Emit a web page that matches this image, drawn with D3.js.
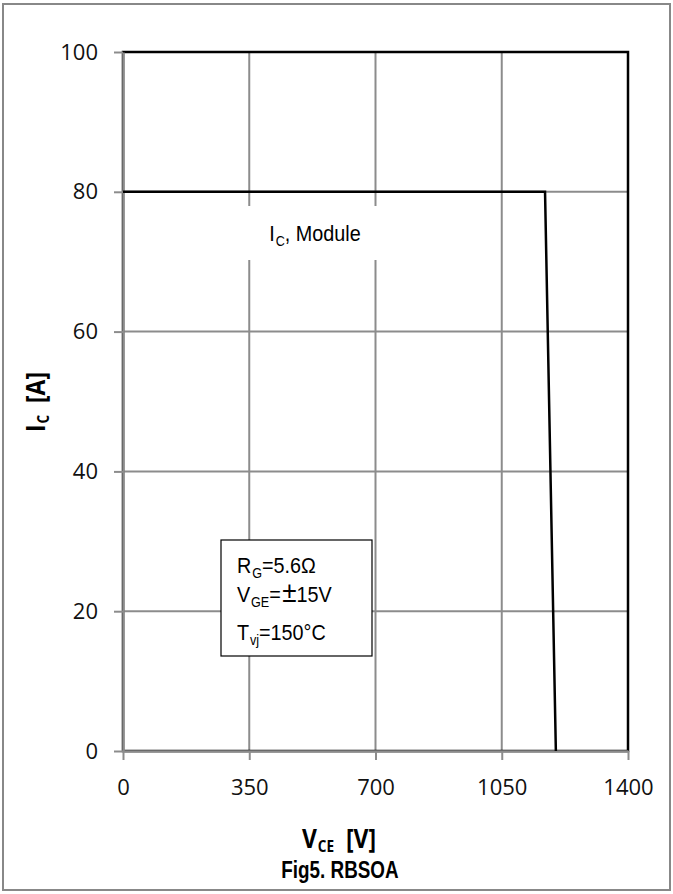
<!DOCTYPE html>
<html>
<head>
<meta charset="utf-8">
<script src="https://cdn.jsdelivr.net/npm/d3@7"></script>
<style>
  html, body { margin: 0; padding: 0; background: #fff; }
  svg { display: block; }
</style>
</head>
<body>
<svg id="chart" width="673" height="894"></svg>
<script>
// RBSOA boundary: collector current vs collector-emitter voltage
const vceValues = [0, 1170, 1200];
const icValues = [80, 80, 0];
const xTicks = [0, 350, 700, 1050, 1400];
const yTicks = [0, 20, 40, 60, 80, 100];
const conditionLines = [
  { main: "R", sub: "G", rest: ["=5.6Ω"] },
  { main: "V", sub: "GE", rest: ["=", "±", "15V"] },
  { main: "T", sub: "vj", rest: ["=150°C"] }
];

const svg = d3.select("#chart");
const W = 673, H = 894;
const plot = { left: 123, right: 628, top: 52, bottom: 751 };
const gridColor = "#8c8c8c";

const x = d3.scaleLinear().domain([0, 1400]).range([plot.left, plot.right]);
const y = d3.scaleLinear().domain([0, 100]).range([plot.bottom, plot.top]);

svg.append("rect").attr("width", W).attr("height", H).attr("fill", "#fff");
// outer frame
svg.append("rect")
  .attr("x", 3).attr("y", 4).attr("width", 667).attr("height", 886)
  .attr("fill", "none").attr("stroke", "#888").attr("stroke-width", 2);

// gridlines
const grid = svg.append("g");
grid.selectAll("line.v").data(xTicks.slice(1, -1)).join("line")
  .attr("x1", d => x(d)).attr("x2", d => x(d))
  .attr("y1", plot.top).attr("y2", plot.bottom)
  .attr("stroke", gridColor).attr("stroke-width", 2);
grid.selectAll("line.h").data(yTicks.slice(1, -1)).join("line")
  .attr("x1", plot.left).attr("x2", plot.right)
  .attr("y1", d => y(d)).attr("y2", d => y(d))
  .attr("stroke", gridColor).attr("stroke-width", 2);

// plot-area border
svg.append("rect")
  .attr("x", plot.left).attr("y", plot.top)
  .attr("width", plot.right - plot.left).attr("height", plot.bottom - plot.top)
  .attr("fill", "none").attr("stroke", "#000").attr("stroke-width", 2.5);

// axes
const tickFont = "'Open Sans', 'Noto Sans', sans-serif";
const xAxis = svg.append("g")
  .attr("transform", `translate(0,${plot.bottom})`)
  .call(d3.axisBottom(x).tickValues(xTicks).tickSize(9).tickSizeOuter(0).tickPadding(19)
    .tickFormat(d3.format("d")));
const yAxis = svg.append("g")
  .attr("transform", `translate(${plot.left},0)`)
  .call(d3.axisLeft(y).tickValues(yTicks).tickSize(9).tickSizeOuter(0).tickPadding(16)
    .tickFormat(d3.format("d")));
[xAxis, yAxis].forEach(a => {
  a.select(".domain").attr("stroke", gridColor).attr("stroke-width", 2.5);
  a.selectAll(".tick line").attr("stroke", gridColor).attr("stroke-width", 2);
  a.selectAll(".tick text")
    .attr("font-family", tickFont).attr("font-size", 22).attr("fill", "#111");
});

// RBSOA curve
const line = d3.line().x((d, i) => x(vceValues[i])).y((d, i) => y(icValues[i]));
svg.append("path")
  .datum(vceValues)
  .attr("d", line)
  .attr("fill", "none").attr("stroke", "#000").attr("stroke-width", 2.5)
  .attr("stroke-linejoin", "miter");

// helper: text compressed horizontally around its anchor
function squeezed(parent, px, py, sx, rotate) {
  const g = parent.append("g")
    .attr("transform", `translate(${px},${py})${rotate ? ` rotate(${rotate})` : ""} scale(${sx},1)`);
  return g.append("text");
}

const labelFont = "'Liberation Sans', Arial, sans-serif";

// curve label with white backing
svg.append("rect")
  .attr("x", 240).attr("y", 206).attr("width", 145).attr("height", 54)
  .attr("fill", "#fff");
const lbl = squeezed(svg, 315, 241, 0.9)
  .attr("text-anchor", "middle")
  .attr("font-family", labelFont).attr("font-size", 22).attr("fill", "#000");
lbl.append("tspan").text("I");
lbl.append("tspan").attr("font-size", 14).attr("dy", 5).attr("dx", 1).text("C");
lbl.append("tspan").attr("dy", -5).text(", Module");

// test-condition box
svg.append("rect")
  .attr("x", 221).attr("y", 540).attr("width", 151).attr("height", 116)
  .attr("fill", "#fff").attr("stroke", "#000").attr("stroke-width", 1.2);
const baselines = [572.5, 602, 640];
conditionLines.forEach((c, i) => {
  const t = squeezed(svg, 237, baselines[i], 0.9)
    .attr("font-family", labelFont).attr("font-size", 22).attr("fill", "#000");
  t.append("tspan").text(c.main);
  t.append("tspan").attr("font-size", 14).attr("dy", 5).attr("dx", 1).text(c.sub);
  c.rest.forEach((part, j) => {
    const s = t.append("tspan").attr("dy", j === 0 ? -5 : null).text(part);
    if (part === "±") s.attr("font-size", 29).attr("dx", 1.5);
  });
});

// axis titles
const titleFont = "'Open Sans', 'Noto Sans', sans-serif";
const xt = squeezed(svg, 339, 848, 0.85)
  .attr("text-anchor", "middle").attr("font-family", titleFont)
  .attr("font-weight", "bold").attr("font-size", 27).attr("fill", "#000");
xt.append("tspan").text("V");
xt.append("tspan").attr("font-size", 16).attr("dy", 4).attr("dx", 1).text("CE");
xt.append("tspan").attr("dy", -4).text("\u00a0\u00a0[V]");

const yt = squeezed(svg, 45, 402, 0.85, -90)
  .attr("text-anchor", "middle").attr("font-family", titleFont)
  .attr("font-weight", "bold").attr("font-size", 27).attr("fill", "#000");
yt.append("tspan").text("I");
yt.append("tspan").attr("font-size", 16).attr("dy", 4).attr("dx", 1).text("C");
yt.append("tspan").attr("dy", -4).text("\u00a0\u00a0[A]");

// figure caption
squeezed(svg, 340, 877.5, 0.82)
  .attr("text-anchor", "middle").attr("font-family", labelFont)
  .attr("font-weight", "bold").attr("font-size", 23).attr("fill", "#000")
  .text("Fig5. RBSOA");
</script>
</body>
</html>
